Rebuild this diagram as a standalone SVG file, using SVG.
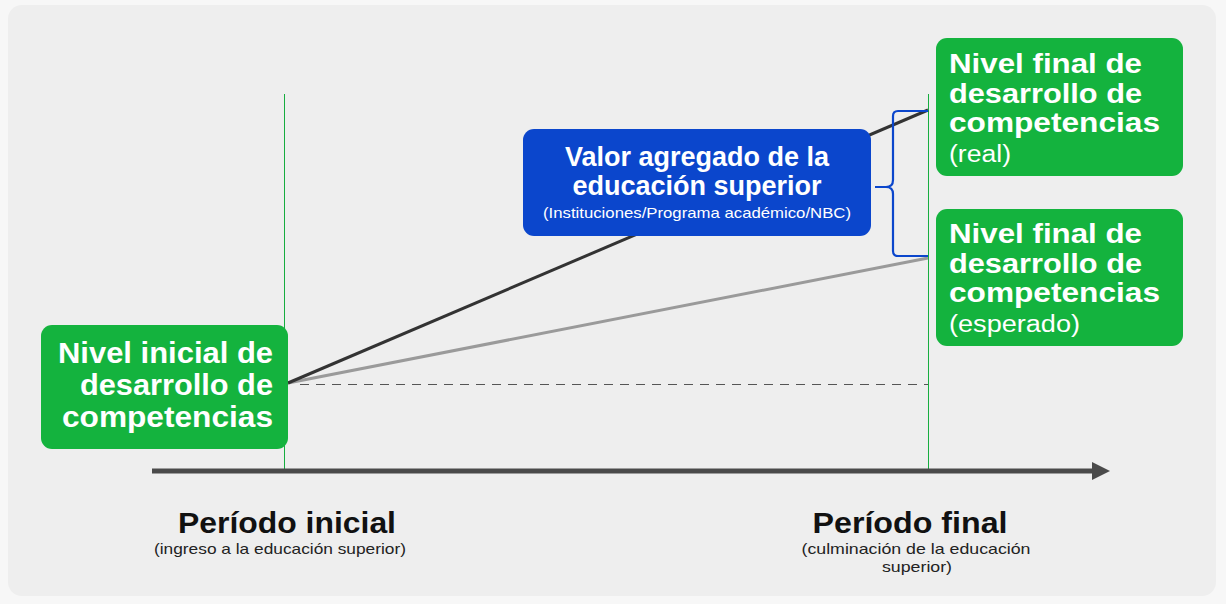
<svg xmlns="http://www.w3.org/2000/svg" width="1226" height="604" viewBox="0 0 1226 604">
<style>
.box{fill:#14b33e}
.bt{font-family:"Liberation Sans",Arial,sans-serif;font-weight:bold;font-size:30px;fill:#ffffff}
.br{font-family:"Liberation Sans",Arial,sans-serif;font-weight:bold;font-size:28px;fill:#ffffff}
.bs{font-family:"Liberation Sans",Arial,sans-serif;font-size:23px;fill:#ffffff}
.pt{font-family:"Liberation Sans",Arial,sans-serif;font-weight:bold;font-size:30px;fill:#111111}
.ps{font-family:"Liberation Sans",Arial,sans-serif;font-size:15px;fill:#222222}
.vt{font-family:"Liberation Sans",Arial,sans-serif;font-weight:bold;font-size:27px;fill:#ffffff}
.vs{font-family:"Liberation Sans",Arial,sans-serif;font-size:15px;fill:#ffffff}
.vl{stroke:#16ad3f;stroke-width:1}
</style>
<defs>
<marker id="ah" viewBox="0 0 10 10" refX="0" refY="5" markerWidth="3.6" markerHeight="4" orient="auto" markerUnits="strokeWidth">
<path d="M0,0 L10,5 L0,10 Z" fill="#4a4a4a"/>
</marker>
</defs>
<rect width="1226" height="604" fill="#f7f7f7"/>
<rect x="8" y="5" width="1208" height="591" rx="14" fill="#eeeeee"/>

<g id="connectors">
<line class="vl" x1="284.5" y1="94" x2="284.5" y2="470"/>
<line class="vl" x1="928.5" y1="94" x2="928.5" y2="470"/>
<line x1="152" y1="471" x2="1092" y2="471" stroke="#4a4a4a" stroke-width="5" marker-end="url(#ah)"/>
<line x1="300" y1="384.5" x2="928" y2="384.5" stroke="#555555" stroke-width="1" stroke-dasharray="9,7"/>
<line x1="288" y1="383" x2="928" y2="258" stroke="#9a9a9a" stroke-width="3"/>
<line x1="288" y1="383" x2="928" y2="110" stroke="#333333" stroke-width="3"/>
<path d="M928,111 L898,111 Q893,111 893,116 L893,180 Q893,187 886,187 L875,187 M886,187 Q893,187 893,194 L893,251 Q893,256 898,256 L928,256" fill="none" stroke="#0b46cc" stroke-width="2.2"/>
</g>

<g id="node-inicial">
<rect class="box" x="41" y="325" width="247" height="124" rx="11"/>
<text class="bt" x="273" y="363" text-anchor="end" textLength="215" lengthAdjust="spacingAndGlyphs">Nivel inicial de</text>
<text class="bt" x="273" y="395" text-anchor="end" textLength="193" lengthAdjust="spacingAndGlyphs">desarrollo de</text>
<text class="bt" x="273" y="427" text-anchor="end" textLength="211" lengthAdjust="spacingAndGlyphs">competencias</text>
</g>

<g id="node-valor">
<rect x="523" y="129" width="348" height="107" rx="11" fill="#0b46cc"/>
<text class="vt" x="697" y="166" text-anchor="middle">Valor agregado de la</text>
<text class="vt" x="697" y="195" text-anchor="middle">educación superior</text>
<text class="vs" x="697" y="218" text-anchor="middle" textLength="308" lengthAdjust="spacingAndGlyphs">(Instituciones/Programa académico/NBC)</text>
</g>

<g id="node-final-real">
<rect class="box" x="936" y="38" width="247" height="138" rx="11"/>
<text class="br" x="949" y="73" textLength="193" lengthAdjust="spacingAndGlyphs">Nivel final de</text>
<text class="br" x="949" y="103" textLength="193" lengthAdjust="spacingAndGlyphs">desarrollo de</text>
<text class="br" x="949" y="132" textLength="211" lengthAdjust="spacingAndGlyphs">competencias</text>
<text class="bs" x="949" y="162" textLength="62" lengthAdjust="spacingAndGlyphs">(real)</text>
</g>

<g id="node-final-esperado">
<rect class="box" x="936" y="209" width="247" height="137" rx="11"/>
<text class="br" x="949" y="243" textLength="193" lengthAdjust="spacingAndGlyphs">Nivel final de</text>
<text class="br" x="949" y="273" textLength="193" lengthAdjust="spacingAndGlyphs">desarrollo de</text>
<text class="br" x="949" y="302" textLength="211" lengthAdjust="spacingAndGlyphs">competencias</text>
<text class="bs" x="949" y="332" textLength="131" lengthAdjust="spacingAndGlyphs">(esperado)</text>
</g>

<g id="label-inicial">
<text class="pt" x="287" y="533" text-anchor="middle" textLength="218" lengthAdjust="spacingAndGlyphs">Período inicial</text>
<text class="ps" x="280" y="554" text-anchor="middle" textLength="252" lengthAdjust="spacingAndGlyphs">(ingreso a la educación superior)</text>
</g>

<g id="label-final">
<text class="pt" x="910" y="533" text-anchor="middle" textLength="195" lengthAdjust="spacingAndGlyphs">Período final</text>
<text class="ps" x="916" y="554" text-anchor="middle" textLength="229" lengthAdjust="spacingAndGlyphs">(culminación de la educación</text>
<text class="ps" x="917" y="572" text-anchor="middle" textLength="70" lengthAdjust="spacingAndGlyphs">superior)</text>
</g>
</svg>
